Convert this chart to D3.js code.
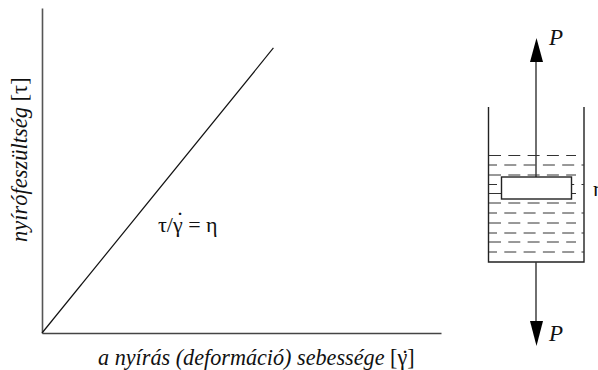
<!DOCTYPE html>
<html><head><meta charset="utf-8">
<script src="https://cdn.jsdelivr.net/npm/d3@7"></script>
<style>html,body{margin:0;background:#fff}svg{display:block}text{font-family:"Liberation Serif",serif;fill:#111}</style>
</head><body><svg id="c" width="598" height="370"></svg>
<script>
const linePoints = [[0,0],[58,87.7]];
const xLabel = "a nyírás (deformáció) sebessége ";
const xUnit = "[γ]";
const yLabel = "nyírófeszültség ";
const yUnit = "[τ]";
const relation = "τ/γ = η";
const rateDot = "˙";
const forceLabel = "P";
const fluidLabel = "η";
const fluidLevels = [155.5,165,175,184.5,193.5,203,213,223,233,242,252];
const levelPhases = [0,4,0,4,0,0,4,0,4,0,4];

const svg = d3.select("#c");
const x = d3.scaleLinear().domain([0,100]).range([42,441]);
const y = d3.scaleLinear().domain([0,100]).range([333,8]);

svg.append("g").attr("transform","translate(0,333)")
  .call(d3.axisBottom(x).tickValues([]).tickSize(0))
  .select("path").attr("stroke","#444").attr("stroke-width",1.4);
svg.append("g").attr("transform","translate(42,0)")
  .call(d3.axisLeft(y).tickValues([]).tickSize(0))
  .select("path").attr("stroke","#555").attr("stroke-width",1.6);
svg.append("path").attr("fill","none").attr("stroke","#111").attr("stroke-width",1.2)
  .attr("d",d3.line().x(d=>x(d[0])).y(d=>y(d[1]))(linePoints));

svg.append("text").attr("x",98).attr("y",365).attr("font-size",22.2)
  .html(`<tspan font-style="italic">${xLabel}</tspan><tspan>${xUnit}</tspan>`);
svg.append("text").attr("x",405).attr("y",366).attr("font-size",24).attr("text-anchor","middle").text(rateDot);
svg.append("text").attr("transform","translate(27,242) rotate(-90)").attr("font-size",22.5)
  .html(`<tspan font-style="italic">${yLabel}</tspan><tspan>${yUnit}</tspan>`);
svg.append("text").attr("x",158).attr("y",232).attr("font-size",22).text(relation);
svg.append("text").attr("x",180).attr("y",228).attr("font-size",24).attr("text-anchor","middle").text(rateDot);

// Container diagram
const g = svg.append("g");
g.append("path").attr("fill","none").attr("stroke","#222").attr("stroke-width",1.4)
  .attr("d","M488.5,107V262H584V107");
g.selectAll("line.lv").data(fluidLevels).join("line").attr("class","lv")
  .attr("x1",489).attr("x2",(d,i)=>levelPhases[i]?584:576).attr("y1",d=>d).attr("y2",d=>d)
  .attr("stroke","#333").attr("stroke-width",1).attr("stroke-dasharray","12,7.3")
  .attr("stroke-dashoffset",(d,i)=>levelPhases[i]);
g.append("line").attr("x1",536).attr("x2",536).attr("y1",60).attr("y2",177).attr("stroke","#333").attr("stroke-width",1.4);
g.append("line").attr("x1",536).attr("x2",536).attr("y1",262).attr("y2",322).attr("stroke","#333").attr("stroke-width",1.4);
g.append("rect").attr("x",501.5).attr("y",177).attr("width",70).attr("height",22)
  .attr("fill","#fff").attr("stroke","#222").attr("stroke-width",1.4);
g.append("path").attr("fill","#000").attr("d","M536.5,38L543,62H530Z");
g.append("path").attr("fill","#000").attr("d","M536.5,346L543,321H530Z");
g.append("text").attr("x",549).attr("y",45).attr("font-size",23).attr("font-style","italic").text(forceLabel);
g.append("text").attr("x",549).attr("y",341).attr("font-size",23).attr("font-style","italic").text(forceLabel);
g.append("text").attr("x",593).attr("y",196).attr("font-size",22).text(fluidLabel);
</script></body></html>
